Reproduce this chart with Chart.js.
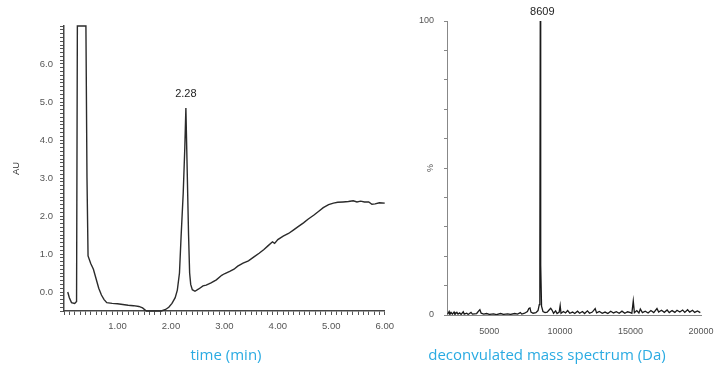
<!DOCTYPE html>
<html>
<head>
<meta charset="utf-8">
<script src="https://cdn.jsdelivr.net/npm/chart.js@4.4.0/dist/chart.umd.min.js"></script>
<style>
  html, body { margin: 0; padding: 0; background: #fff; overflow: hidden; width: 715px; height: 369px; }
  #left { position: absolute; left: 0; top: 0; }
  #right { position: absolute; left: 400px; top: 0; }
  .caption { position: absolute; top: 344px; color: #2aabe2; font: 15px "Open Sans", sans-serif; white-space: nowrap; transform: translateX(-50%); }
</style>
</head>
<body>
<canvas id="left" width="400" height="369"></canvas>
<canvas id="right" width="330" height="369"></canvas>
<div class="caption" style="left:226px">time (min)</div>
<div class="caption" style="left:547px">deconvulated mass spectrum (Da)</div>

<script>
// chromatogram (time in min, absorbance in AU)
var chromTime = [0.07, 0.10, 0.14, 0.20, 0.235, 0.25, 0.41, 0.43, 0.45, 0.50, 0.55, 0.60, 0.65, 0.70, 0.75, 0.80, 0.90, 1.00,
  1.10, 1.20, 1.30, 1.40, 1.47, 1.54, 1.82, 1.90, 1.96, 2.02, 2.08, 2.12, 2.16, 2.19, 2.23, 2.26, 2.28, 2.30, 2.33, 2.35, 2.37,
  2.40, 2.45, 2.52, 2.60, 2.66, 2.75, 2.85, 2.95, 3.00, 3.10, 3.18, 3.25, 3.35, 3.45, 3.56, 3.65, 3.74, 3.82, 3.90, 3.94,
  4.00, 4.10, 4.20, 4.29, 4.38, 4.48, 4.57, 4.67, 4.76, 4.85, 4.95, 5.04, 5.12, 5.22, 5.32, 5.41, 5.48, 5.55, 5.62, 5.70,
  5.76, 5.82, 5.90, 6.00];
var chromAU = [0.0, -0.15, -0.28, -0.3, -0.25, 7.0, 7.0, 3.0, 0.95, 0.75, 0.6, 0.35, 0.1, -0.08, -0.2, -0.28, -0.3, -0.31,
  -0.33, -0.35, -0.36, -0.38, -0.42, -0.5, -0.5, -0.46, -0.4, -0.3, -0.15, 0.05, 0.5, 1.45, 2.6, 3.8, 4.84, 3.5, 1.5, 0.5, 0.2,
  0.06, 0.02, 0.08, 0.16, 0.18, 0.24, 0.32, 0.44, 0.48, 0.54, 0.6, 0.68, 0.76, 0.82, 0.93, 1.02, 1.12, 1.22, 1.32, 1.28,
  1.38, 1.47, 1.54, 1.63, 1.72, 1.82, 1.92, 2.02, 2.12, 2.22, 2.30, 2.34, 2.36, 2.37, 2.38, 2.40, 2.37, 2.39, 2.37, 2.37,
  2.31, 2.32, 2.35, 2.34];
var peakTime = 2.28;
var peakAU = 4.84;

// deconvoluted spectrum (mass in Da, relative intensity in %)
var specMass = [2050, 2150, 2200, 2300, 2380, 2500, 2560, 2700, 2780, 2900, 3000, 3150, 3220, 3400, 3500, 3700, 3800, 4100,
  4250, 4330, 4420, 4600, 4800, 5000, 5300, 5500, 5800, 6000, 6300, 6500, 6800, 7000, 7200, 7300, 7500, 7700, 7800, 7880,
  7950, 8100, 8300, 8450, 8540, 8580, 8609, 8640, 8700, 8800, 8950, 9100, 9250, 9350, 9450, 9550, 9700, 9800, 9950, 10020,
  10080, 10250, 10400, 10550, 10700, 10900, 11050, 11250, 11400, 11600, 11750, 11950, 12100, 12300, 12500, 12600, 12800,
  13000, 13200, 13400, 13600, 13800, 14000, 14200, 14400, 14600, 14800, 15000, 15100, 15200, 15280, 15450, 15600, 15700,
  15850, 16050, 16250, 16450, 16650, 16880, 17000, 17200, 17400, 17600, 17750, 17950, 18150, 18300, 18500, 18700, 18850,
  19050, 19200, 19400, 19550, 19750, 19950];
var specInt = [0.3, 1.2, 0.2, 0.8, 0.3, 1.0, 0.2, 0.9, 0.3, 0.7, 0.2, 1.1, 0.3, 0.6, 0.2, 0.9, 0.3, 0.5,
  1.4, 1.8, 0.6, 0.3, 0.5, 0.2, 0.4, 0.1, 0.5, 0.2, 0.4, 0.2, 0.5, 0.3, 0.8, 0.3, 0.6, 1.2, 2.2, 2.4,
  1.0, 0.6, 0.8, 1.5, 3.5, 17, 100, 17, 3.0, 1.2, 0.8, 1.0, 1.8, 2.3, 1.6, 0.6, 1.4, 0.5, 1.0, 3.2,
  0.6, 1.2, 0.7, 1.5, 0.6, 1.0, 0.5, 1.3, 0.6, 1.2, 0.5, 1.4, 0.6, 1.0, 2.2, 0.7, 1.2,
  0.6, 1.0, 0.5, 1.3, 0.7, 1.1, 0.6, 1.3, 0.6, 1.1, 0.8, 0.6, 4.8, 0.8, 1.5, 0.7, 2.0,
  0.8, 1.3, 0.7, 1.5, 0.8, 2.2, 1.0, 1.6, 0.9, 1.7, 0.8, 1.5, 0.9, 1.6, 1.0, 1.7, 0.9,
  1.8, 1.0, 1.6, 0.9, 1.4, 0.8];
var peakMass = 8609;
var peakInt = 100;
var massTicks = [2000, 5000, 10000, 15000, 20000];
var massLabels = ['', '5000', '10000', '15000', '20000'];

var tickFont = { family: '"Liberation Sans", Arial, sans-serif', size: 9.5 };
var smallFont = { family: '"Liberation Sans", Arial, sans-serif', size: 9 };

// writes the value over a peak
var peakLabel = {
  id: 'peakLabel',
  afterDatasetsDraw(chart, args, opts) {
    var ctx = chart.ctx;
    var px = chart.scales.x.getPixelForValue(opts.x);
    var py = chart.scales.y.getPixelForValue(opts.y);
    ctx.save();
    ctx.font = '11px "Liberation Sans", Arial, sans-serif';
    ctx.fillStyle = '#222';
    ctx.textAlign = 'center';
    ctx.textBaseline = 'middle';
    ctx.fillText(opts.text, px + (opts.dx || 0), py - opts.gap);
    ctx.restore();
  }
};

function isWhole(v) { return Math.abs(v - Math.round(v)) < 1e-6; }

new Chart(document.getElementById('left'), {
  type: 'line',
  data: {
    datasets: [{
      data: chromTime.map(function (t, i) { return { x: t, y: chromAU[i] }; }),
      borderColor: '#2b2b2b',
      borderWidth: 1.4,
      pointRadius: 0,
      tension: 0,
      clip: 2
    }]
  },
  options: {
    responsive: false,
    animation: false,
    layout: { padding: { left: 0, top: 26, right: 11, bottom: 0 } },
    plugins: {
      legend: { display: false },
      tooltip: { enabled: false },
      peakLabel: { x: peakTime, y: peakAU, text: peakTime.toFixed(2), gap: 14 }
    },
    scales: {
      x: {
        type: 'linear', min: 0, max: 6,
        afterFit: function (s) { s.height = 58; },
        grid: { drawOnChartArea: false, tickLength: 4, color: '#555' },
        border: { color: '#444', width: 1.5 },
        ticks: {
          stepSize: 0.1, autoSkip: false, maxRotation: 0, padding: 6, color: '#555', font: tickFont,
          callback: function (v) { return isWhole(v) && v >= 1 ? v.toFixed(2) : ''; }
        }
      },
      y: {
        min: -0.5, max: 7,
        afterFit: function (s) { s.width = 64; },
        grid: { drawOnChartArea: false, tickLength: 4, color: '#555' },
        border: { color: '#444', width: 1.5 },
        title: { display: true, text: 'AU', color: '#333', font: tickFont, padding: { top: 11, bottom: 0 } },
        ticks: {
          stepSize: 0.1, autoSkip: false, padding: 7, color: '#555', font: tickFont,
          callback: function (v) { return isWhole(v) && v >= 0 && v <= 6 ? v.toFixed(1) : ''; }
        }
      }
    }
  },
  plugins: [peakLabel]
});

new Chart(document.getElementById('right'), {
  type: 'line',
  data: {
    datasets: [{
      data: specMass.map(function (m, i) { return { x: m, y: specInt[i] }; }),
      borderColor: '#1a1a1a',
      borderWidth: 1.3,
      pointRadius: 0,
      tension: 0
    }]
  },
  options: {
    responsive: false,
    animation: false,
    layout: { padding: { left: 0, top: 21, right: 29, bottom: 0 } },
    plugins: {
      legend: { display: false },
      tooltip: { enabled: false },
      peakLabel: { x: peakMass, y: peakInt, text: String(peakMass), gap: 9, dx: 2 }
    },
    scales: {
      x: {
        type: 'linear', min: 2000, max: 20000,
        afterBuildTicks: function (s) { s.ticks = massTicks.map(function (v) { return { value: v }; }); },
        afterFit: function (s) { s.height = 54; },
        grid: { drawOnChartArea: false, drawTicks: false },
        border: { color: '#888', width: 1 },
        ticks: {
          autoSkip: false, maxRotation: 0, padding: 11, color: '#555', font: smallFont,
          callback: function (v, i) { return massLabels[i]; }
        }
      },
      y: {
        min: 0, max: 100,
        afterFit: function (s) { s.width = 47; },
        grid: { drawOnChartArea: false, tickLength: 3, color: '#888' },
        border: { color: '#888', width: 1 },
        title: { display: true, text: '%', color: '#555', font: smallFont, padding: { top: 25, bottom: 0 } },
        ticks: {
          stepSize: 10, autoSkip: false, padding: 10, color: '#555', font: smallFont,
          callback: function (v) { return v === 0 || v === 100 ? String(v) : ''; }
        }
      }
    }
  },
  plugins: [peakLabel]
});
</script>
</body>
</html>
